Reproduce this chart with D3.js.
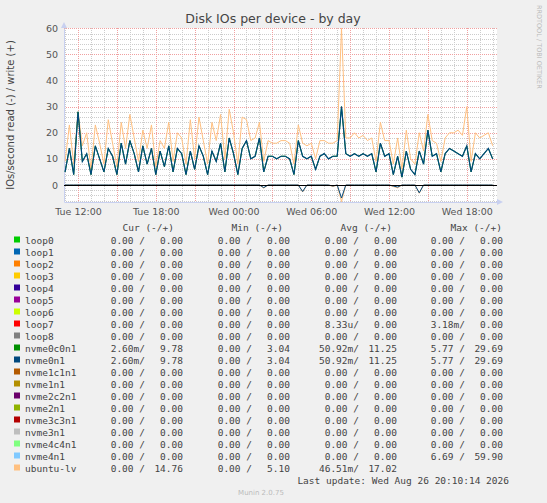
<!DOCTYPE html>
<html>
<head>
<meta charset="utf-8">
<script src="https://d3js.org/d3.v7.min.js"></script>
<style>
body { margin: 0; background: #f0f0f0; }
svg { display: block; }
text { font-family: "DejaVu Sans", sans-serif; }
.mono { font-family: "DejaVu Sans Mono", monospace; font-size: 9.5px; fill: #444; }
</style>
</head>
<body>
<script>
// one sample every 20 minutes from Tue 11:00 to Wed 20:00
var startTime = new Date(2026, 7, 25, 11, 0);
var stepMin = 20;

var nvmeWrite = [5,14,4, 28,9,12, 4,15,10, 5,14,11, 4,16,8, 17,12,5, 15,8,14, 4,13,7, 15,5,14, 12,4,13, 6,15,11, 4,13,9, 16,5,18,
  12,4,14, 17,10,11, 18,5,11, 11,10,11, 11,10,4, 17,11,10, 11,6,11, 12,10,11, 11,30,12, 11,12,11, 12,11,12, 5,16,11, 12,4,11,
  3,13,6, 4,13,8, 21,11,12, 5,12,14, 13,12,11, 15,5,12, 10,12,14, 10];
var lvWrite = [9,23,8, 28,15,20, 6,23,16, 8,25,16, 7,24,14, 27,18,9, 21,14,23, 7,17,14, 24,9,20, 18,8,25, 10,26,17, 8,24,17, 27,10,29,
  20,8,26, 25,17,18, 24,9,17, 16,16,17, 17,16,8, 23,16,15, 16,10,17, 17,16,16, 17,60,18, 18,20,18, 19,17,18, 9,24,17, 17,8,18,
  6,21,10, 8,20,13, 27,17,16, 9,18,20, 20,21,19, 30,9,20, 18,19,20, 15];
var nvmeRead = [0,0,0, 0,0,0, 0,0,0, 0,0,0, 0,0,0, 0,0,0, 0,0,0, 0,0,0, 0,0,0, 0,0,0, 0,0,0, 0,0,0, 0,0,0,
  0,0,0, 0,0,0, 0,1,0, 0,0,0, 0,0,0, 0,2.5,0, 0,0,0, 0,0,0.4, 0,5,0, 0,0,0, 0,0,0, 0,0,0, 0,0.4,0.8,
  0,0,0, 0,3,0, 0,0,0, 0,0,0, 0,0,0, 0,0,0, 0,0,0, 0];
var lvRead = [0,0,0, 0,0,0, 0,0,0, 0,0,0, 0,0,0, 0,0,0, 0,0,0, 0,0,0, 0,0,0, 0,0,0, 0,0,0, 0,0,0, 0,0,0,
  0,0,0, 0,0,0, 0,1.2,0, 0,0,0, 0,0,0, 0,2.7,0, 0,0,0, 0,0,0.6, 0,6.4,0, 0,0,0, 0,0,0, 0,0,0, 0,0.6,1.1,
  0,0,0, 0,3.2,0, 0,0,0, 0,0,0, 0,0,0, 0,0,0, 0,0,0, 0];

var yTicks = [0, 10, 20, 30, 40, 50, 60];
var xTickLabels = ["Tue 12:00", "Tue 18:00", "Wed 00:00", "Wed 06:00", "Wed 12:00", "Wed 18:00"];

var devices = ["loop0","loop1","loop2","loop3","loop4","loop5","loop6","loop7","loop8","nvme0c0n1","nvme0n1",
  "nvme1c1n1","nvme1n1","nvme2c2n1","nvme2n1","nvme3c3n1","nvme3n1","nvme4c4n1","nvme4n1","ubuntu-lv"];
var colors = ["#00CC00","#0066B3","#FF8000","#FFCC00","#330099","#990099","#CCFF00","#FF0000","#808080","#008F00","#00487D",
  "#B35A00","#B38F00","#6B006B","#8FB300","#B30000","#BEBEBE","#80FF80","#80C9FF","#FFC080"];
var cur = ["0.00 /","0.00","0.00 /","0.00","0.00 /","0.00","0.00 /","0.00","0.00 /","0.00","0.00 /","0.00","0.00 /","0.00","0.00 /","0.00","0.00 /","0.00",
  "2.60m/","9.78","2.60m/","9.78","0.00 /","0.00","0.00 /","0.00","0.00 /","0.00","0.00 /","0.00","0.00 /","0.00","0.00 /","0.00","0.00 /","0.00","0.00 /","0.00","0.00 /","14.76"];
var mins = ["0.00 /","0.00","0.00 /","0.00","0.00 /","0.00","0.00 /","0.00","0.00 /","0.00","0.00 /","0.00","0.00 /","0.00","0.00 /","0.00","0.00 /","0.00",
  "0.00 /","3.04","0.00 /","3.04","0.00 /","0.00","0.00 /","0.00","0.00 /","0.00","0.00 /","0.00","0.00 /","0.00","0.00 /","0.00","0.00 /","0.00","0.00 /","0.00","0.00 /","5.10"];
var avgs = ["0.00 /","0.00","0.00 /","0.00","0.00 /","0.00","0.00 /","0.00","0.00 /","0.00","0.00 /","0.00","0.00 /","0.00","8.33u/","0.00","0.00 /","0.00",
  "50.92m/","11.25","50.92m/","11.25","0.00 /","0.00","0.00 /","0.00","0.00 /","0.00","0.00 /","0.00","0.00 /","0.00","0.00 /","0.00","0.00 /","0.00","0.00 /","0.00","46.51m/","17.02"];
var maxs = ["0.00 /","0.00","0.00 /","0.00","0.00 /","0.00","0.00 /","0.00","0.00 /","0.00","0.00 /","0.00","0.00 /","0.00","3.18m/","0.00","0.00 /","0.00",
  "5.77 /","29.69","5.77 /","29.69","0.00 /","0.00","0.00 /","0.00","0.00 /","0.00","0.00 /","0.00","0.00 /","0.00","0.00 /","0.00","0.00 /","0.00","6.69 /","59.90"];

var w = 547, h = 503;
var svg = d3.select("body").append("svg").attr("width", w).attr("height", h);

var x = d3.scaleTime()
  .domain([new Date(2026, 7, 25, 10, 55), new Date(2026, 7, 26, 20, 20)])
  .range([64, 497]);
var y = d3.scaleLinear().domain([-6.4, 60]).range([201.7, 28.3]);

function t(i) { return new Date(startTime.getTime() + i * stepMin * 60000); }

// plot background
svg.append("rect").attr("x", 64).attr("y", 28).attr("width", 433).attr("height", 174).attr("fill", "#fff");

// minor grid
var g = svg.append("g");
d3.range(-6, 61, 2).filter(function(v) { return v % 10 != 0; }).forEach(function(v) {
  g.append("line").attr("x1", 64).attr("x2", 497).attr("y1", Math.round(y(v)) + 0.5).attr("y2", Math.round(y(v)) + 0.5)
    .attr("stroke", "#ccc").attr("stroke-dasharray", "1,1");
});
x.ticks(d3.timeHour.every(1)).forEach(function(d) {
  g.append("line").attr("y1", 28).attr("y2", 202).attr("x1", Math.round(x(d)) + 0.5).attr("x2", Math.round(x(d)) + 0.5)
    .attr("stroke", "#ccc").attr("stroke-dasharray", "1,1");
});
// major grid
yTicks.forEach(function(v) {
  g.append("line").attr("x1", 64).attr("x2", 497).attr("y1", Math.round(y(v)) + 0.5).attr("y2", Math.round(y(v)) + 0.5)
    .attr("stroke", "#f0a0a0").attr("stroke-dasharray", "1,1");
});
x.ticks(d3.timeHour.every(3)).forEach(function(d) {
  g.append("line").attr("y1", 28).attr("y2", 202).attr("x1", Math.round(x(d)) + 0.5).attr("x2", Math.round(x(d)) + 0.5)
    .attr("stroke", "#f0a0a0").attr("stroke-dasharray", "1,1");
});

// axes
var yAxis = d3.axisLeft(y).tickValues(yTicks).tickSize(0).tickPadding(6);
svg.append("g").attr("transform", "translate(64,0)").call(yAxis)
  .call(function(s) { s.select(".domain").attr("stroke", "#c8d0f0"); })
  .selectAll("text").attr("font-size", "9.5px").attr("fill", "#555").attr("font-family", "DejaVu Sans");
var xAxis = d3.axisBottom(x).ticks(d3.timeHour.every(6)).tickSize(0).tickPadding(6)
  .tickFormat(function(d, i) { return xTickLabels[i]; });
svg.append("g").attr("transform", "translate(0,202)").call(xAxis)
  .call(function(s) { s.select(".domain").attr("stroke", "#c8d0f0"); })
  .selectAll("text").attr("font-size", "9.5px").attr("fill", "#555").attr("font-family", "DejaVu Sans");
svg.append("path").attr("d", "M497,199 L503,202 L497,205 Z").attr("fill", "#c8d0f0");
svg.append("path").attr("d", "M61,28 L64,22 L67,28 Z").attr("fill", "#c8d0f0");

// series
var lineW = d3.line().x(function(d, i) { return x(t(i)); }).y(function(d) { return y(d); });
var lineR = d3.line().x(function(d, i) { return x(t(i)); }).y(function(d) { return y(-d); });
svg.append("path").attr("d", lineW(lvWrite)).attr("fill", "none").attr("stroke", colors[19]).attr("stroke-width", 1);
svg.append("path").attr("d", lineW(nvmeWrite)).attr("fill", "none").attr("stroke", colors[9]).attr("stroke-width", 1);
svg.append("path").attr("d", lineW(nvmeWrite)).attr("fill", "none").attr("stroke", colors[10]).attr("stroke-width", 1.2);
svg.append("path").attr("d", lineR(lvRead)).attr("fill", "none").attr("stroke", colors[19]).attr("stroke-width", 1);
svg.append("path").attr("d", lineR(nvmeRead)).attr("fill", "none").attr("stroke", colors[10]).attr("stroke-width", 1);

// zero line
svg.append("line").attr("x1", 64).attr("x2", 497).attr("y1", Math.round(y(0)) + 0.5).attr("y2", Math.round(y(0)) + 0.5)
  .attr("stroke", "#000");

// titles
svg.append("text").attr("x", 273).attr("y", 23).attr("text-anchor", "middle").attr("font-size", "12.5px").attr("fill", "#444")
  .text("Disk IOs per device - by day");
svg.append("text").attr("transform", "translate(14,115) rotate(-90)").attr("text-anchor", "middle").attr("font-size", "10px")
  .attr("fill", "#444").text("IOs/second read (-) / write (+)");
svg.append("text").attr("transform", "translate(537,5) rotate(90)").attr("font-size", "6.5px").attr("fill", "#bbb")
  .text("RRDTOOL / TOBI OETIKER");

// legend
var headers = [["Cur (-/+)", 174], ["Min (-/+)", 283], ["Avg (-/+)", 392], ["Max (-/+)", 502]];
headers.forEach(function(hd) {
  svg.append("text").attr("class", "mono").attr("x", hd[1]).attr("y", 231).attr("text-anchor", "end").text(hd[0]);
});
var cols = [[cur, 145, 183], [mins, 252, 290], [avgs, 359, 397], [maxs, 465, 503]];
devices.forEach(function(name, i) {
  var yy = 243.5 + i * 12;
  svg.append("rect").attr("x", 14).attr("y", yy - 7).attr("width", 6).attr("height", 6).attr("fill", colors[i]);
  svg.append("text").attr("class", "mono").attr("x", 25).attr("y", yy).text(name);
  cols.forEach(function(c) {
    svg.append("text").attr("class", "mono").attr("x", c[1]).attr("y", yy).attr("text-anchor", "end").text(c[0][i * 2]);
    svg.append("text").attr("class", "mono").attr("x", c[2]).attr("y", yy).attr("text-anchor", "end").text(c[0][i * 2 + 1]);
  });
});
svg.append("text").attr("class", "mono").attr("x", 509).attr("y", 483.5).attr("text-anchor", "end")
  .text("Last update: Wed Aug 26 20:10:14 2026");
svg.append("text").attr("x", 261).attr("y", 495).attr("text-anchor", "middle").attr("font-size", "7px").attr("fill", "#bbb")
  .text("Munin 2.0.75");
</script>
</body>
</html>
